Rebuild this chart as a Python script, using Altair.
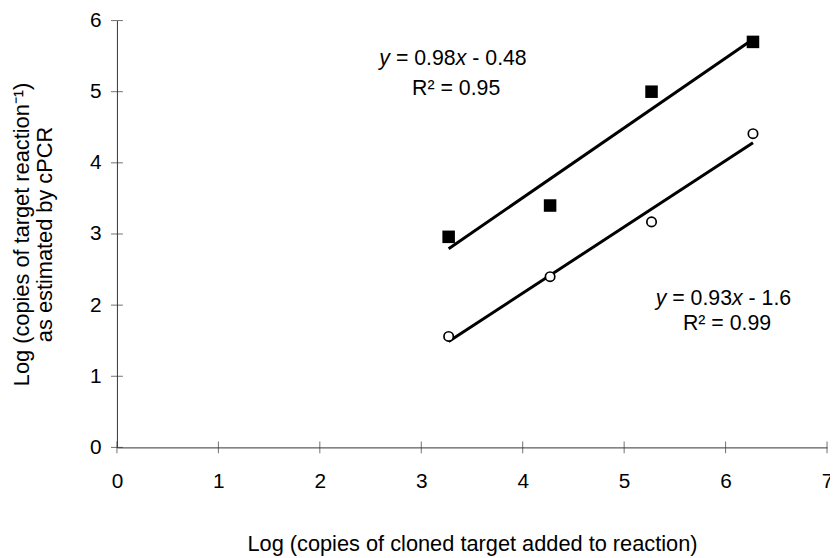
import altair as alt
import pandas as pd

# ---- data ----
x_added = [3.27, 4.27, 5.27, 6.27]          # Log copies of cloned target added
y_squares = [2.96, 3.40, 5.00, 5.70]        # filled squares series
y_circles = [1.56, 2.40, 3.17, 4.41]        # open circles series
x_ticks = [0, 1, 2, 3, 4, 5, 6, 7]
y_ticks = [0, 1, 2, 3, 4, 5, 6]

x_title = "Log (copies of cloned target added to reaction)"
y_title = ["Log (copies of target reaction\u207b\u00b9)", "as estimated by cPCR"]

# equation annotations: full text, italic characters, anchor (left edge, baseline) in data units
eq_texts = ["y = 0.98x - 0.48", "y = 0.93x - 1.6"]
eq_anchor_x = [2.587, 5.311]
eq_anchor_y = [5.374, 2.005]
r2_texts = ["R\u00b2 = 0.95", "R\u00b2 = 0.99"]
r2_anchor_x = [3.344, 6.014]
r2_anchor_y = [4.956, 1.657]

FONT = "Liberation Sans"
LABEL_SIZE = 21
TITLE_SIZE = 22
ANN_SIZE = 21.5
AXIS_COLOR = "#333333"

# Arial/Liberation Sans advance widths (em) for splitting mixed italic text
ADV = {"0": .556, "1": .556, "2": .556, "3": .556, "4": .556, "5": .556, "6": .556,
       "7": .556, "8": .556, "9": .556, ".": .278, "=": .584, "-": .333, " ": .278,
       "x": .5, "y": .5}


def split_segments(text):
    """Split into runs of italic (x, y) and upright characters with pixel offsets."""
    segs = []
    cur = ""
    cur_it = None
    start = 0.0
    pos = 0.0
    for ch in text:
        it = ch in "xy"
        if cur_it is None or it != cur_it:
            if cur:
                segs.append((cur, cur_it, start))
            cur, cur_it, start = "", it, pos
        if ch == " " and cur == "":
            start += ADV[ch] * ANN_SIZE
        else:
            cur += ch
        pos += ADV.get(ch, .556) * ANN_SIZE
    if cur:
        segs.append((cur, cur_it, start))
    return segs


df_sq = pd.DataFrame({"x": x_added, "y": y_squares})
df_ci = pd.DataFrame({"x": x_added, "y": y_circles})
df_xt = pd.DataFrame({"t": x_ticks})
df_yt = pd.DataFrame({"t": y_ticks})

xs = alt.Scale(domain=[0, 7], nice=False, zero=False)
ys = alt.Scale(domain=[0, 6], nice=False, zero=False)

X = alt.X("x:Q", scale=xs, title=x_title,
          axis=alt.Axis(values=x_ticks, format="d", ticks=False, grid=False, labelPadding=23,
                        labelFontSize=LABEL_SIZE, titleFontSize=TITLE_SIZE,
                        titlePadding=43, titleFontWeight="normal", labelFont=FONT,
                        titleFont=FONT, domainColor=AXIS_COLOR, labelColor="black",
                        titleColor="black", labelFlush=False))
Y = alt.Y("y:Q", scale=ys, title=y_title,
          axis=alt.Axis(values=y_ticks, format="d", ticks=False, grid=False, labelPadding=16,
                        labelFontSize=LABEL_SIZE, titleFontSize=TITLE_SIZE,
                        titlePadding=33, titleFontWeight="normal", labelFont=FONT,
                        titleFont=FONT, domainColor=AXIS_COLOR, labelColor="black",
                        titleColor="black", titleLineHeight=24, labelFlush=False))

base_sq = alt.Chart(df_sq).encode(x=X, y=Y)
base_ci = alt.Chart(df_ci).encode(x=alt.X("x:Q", scale=xs), y=alt.Y("y:Q", scale=ys))

line_sq = base_sq.transform_regression("x", "y").mark_line(color="black", strokeWidth=3)
line_ci = base_ci.transform_regression("x", "y").mark_line(color="black", strokeWidth=3)
pts_sq = base_sq.mark_point(shape="square", filled=True, color="black", size=160, opacity=1)
pts_ci = base_ci.mark_point(shape="circle", filled=False, color="black", fill="white",
                            fillOpacity=1, strokeWidth=1.7, size=90, opacity=1)

xtick = alt.Chart(df_xt).mark_tick(orient="vertical", size=12, thickness=1,
                                   color=AXIS_COLOR).encode(
    x=alt.X("t:Q", scale=xs), y=alt.datum(0, scale=ys))
ytick = alt.Chart(df_yt).mark_tick(orient="horizontal", size=12, thickness=1,
                                   color=AXIS_COLOR).encode(
    y=alt.Y("t:Q", scale=ys), x=alt.datum(0, scale=xs))

text_layers = []
for txt, ax, ay in zip(eq_texts, eq_anchor_x, eq_anchor_y):
    for seg, italic, off in split_segments(txt):
        d = pd.DataFrame({"x": [ax], "y": [ay], "label": [seg]})
        text_layers.append(
            alt.Chart(d).mark_text(align="left", baseline="alphabetic", dx=off,
                                   font=FONT, fontSize=ANN_SIZE, color="black",
                                   fontStyle="italic" if italic else "normal").encode(
                x=alt.X("x:Q", scale=xs), y=alt.Y("y:Q", scale=ys), text="label:N"))
df_r2 = pd.DataFrame({"x": r2_anchor_x, "y": r2_anchor_y, "label": r2_texts})
text_layers.append(
    alt.Chart(df_r2).mark_text(align="center", baseline="alphabetic", font=FONT,
                               fontSize=ANN_SIZE, color="black").encode(
        x=alt.X("x:Q", scale=xs), y=alt.Y("y:Q", scale=ys), text="label:N"))

chart = alt.layer(
    line_sq, line_ci, xtick, ytick, pts_sq, pts_ci, *text_layers
).properties(
    width=717, height=431,
    autosize=alt.AutoSizeParams(type="none"),
    padding={"left": 110, "top": 10, "right": 3, "bottom": 110},
    background="white",
).configure_view(stroke=None)

chart.save("out.html", embed_options={"renderer": "svg", "actions": False})
